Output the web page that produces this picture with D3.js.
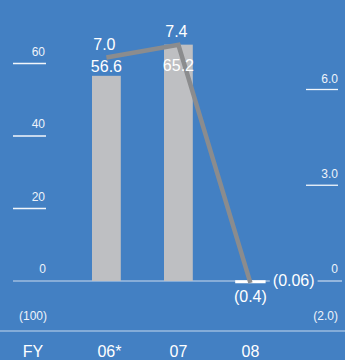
<!DOCTYPE html>
<html>
<head>
<meta charset="utf-8">
<script src="https://cdn.jsdelivr.net/npm/d3@7"></script>
<style>
  html, body { margin: 0; padding: 0; background: #4380c3; }
  svg { display: block; font-family: "Liberation Sans", Arial, sans-serif; }
</style>
</head>
<body>
<div id="chart"></div>
<script>
// values
const categories = ["06*", "07", "08"]
const barValues = [56.6, 65.2, -0.4]
const barLabels = ["56.6", "65.2", "(0.4)"]
const lineValues = [7.0, 7.4, -0.06]
const lineLabels = ["7.0", "7.4", "(0.06)"]
const leftTicks = [0, 20, 40, 60]
const rightTicks = [0, 3.0, 6.0]
const leftBottomLabel = "(100)"
const rightBottomLabel = "(2.0)"

const WIDTH = 345
const HEIGHT = 360
const BG = "#4380c3"

const svg = d3.select("#chart").append("svg")
  .attr("width", WIDTH)
  .attr("height", HEIGHT)

svg.append("rect")
  .attr("width", WIDTH)
  .attr("height", HEIGHT)
  .attr("fill", BG)

const x = d3.scaleBand()
  .domain(categories)
  .range([70.4, 286.4])
  .paddingInner(0.6)
  .paddingOuter(0.3)

const yL = d3.scaleLinear().domain([0, 60]).range([281, 63.5])
const yR = d3.scaleLinear().domain([0, 6]).range([281, 89.5])

const cx = d => x(d) + x.bandwidth() / 2

// left axis ticks
const lt = svg.append("g").selectAll("g").data(leftTicks.filter(d => d !== 0)).join("g")
lt.append("line")
  .attr("x1", 13).attr("x2", 46)
  .attr("y1", d => yL(d)).attr("y2", d => yL(d))
  .attr("stroke", "#f2f6fb").attr("stroke-width", 1.3)
lt.append("text")
  .attr("x", 45).attr("y", d => yL(d) - 8)
  .attr("text-anchor", "end").attr("font-size", 12).attr("fill", "#eef3fa")
  .text(d => d)

// right axis ticks
const rt = svg.append("g").selectAll("g").data(rightTicks.filter(d => d !== 0)).join("g")
rt.append("line")
  .attr("x1", 306).attr("x2", 338)
  .attr("y1", d => yR(d)).attr("y2", d => yR(d))
  .attr("stroke", "#f2f6fb").attr("stroke-width", 1.3)
rt.append("text")
  .attr("x", 338).attr("y", d => yR(d) - 7)
  .attr("text-anchor", "end").attr("font-size", 12).attr("fill", "#eef3fa")
  .text(d => d.toFixed(1))

// zero labels
svg.append("text")
  .attr("x", 46).attr("y", yL(0) - 8)
  .attr("text-anchor", "end").attr("font-size", 12).attr("fill", "#eef3fa")
  .text(leftTicks[0])
svg.append("text")
  .attr("x", 338).attr("y", yR(0) - 8)
  .attr("text-anchor", "end").attr("font-size", 12).attr("fill", "#eef3fa")
  .text(rightTicks[0])

// bottom labels of both axes
svg.append("text")
  .attr("x", 47).attr("y", 320)
  .attr("text-anchor", "end").attr("font-size", 12).attr("fill", "#eef3fa")
  .text(leftBottomLabel)
svg.append("text")
  .attr("x", 338).attr("y", 320)
  .attr("text-anchor", "end").attr("font-size", 12).attr("fill", "#eef3fa")
  .text(rightBottomLabel)

// zero line, broken by the last line label
const zeroG = svg.append("g")

// bars
svg.append("g").selectAll("rect")
  .data(barValues)
  .join("rect")
  .attr("x", (d, i) => x(categories[i]))
  .attr("width", x.bandwidth())
  .attr("y", d => yL(Math.max(0, d)))
  .attr("height", d => Math.abs(yL(d) - yL(0)))
  .attr("fill", d => d < 0 ? "#ffffff" : "#bebfc2")
  .attr("stroke", d => d < 0 ? "#ffffff" : "none")
  .attr("stroke-width", 1.6)

// line
const line = d3.line()
  .x((d, i) => cx(categories[i]))
  .y(d => yR(d))

svg.append("path")
  .datum(lineValues)
  .attr("d", line)
  .attr("fill", "none")
  .attr("stroke", "#8b8c8e")
  .attr("stroke-width", 4.5)
  .attr("stroke-linejoin", "miter")

// bar labels
barValues.forEach((v, i) => {
  const px = cx(categories[i])
  let y
  if (v < 0) y = yL(0) + 21
  else if (yL(v) < yR(lineValues[i]) + 15) y = yL(v) + 26
  else y = yL(v) - 4
  svg.append("text")
    .attr("x", px).attr("y", y)
    .attr("text-anchor", "middle").attr("font-size", 16).attr("fill", "#ffffff")
    .text(barLabels[i])
})

// line labels
let lastLabel
lineValues.forEach((v, i) => {
  const px = cx(categories[i])
  if (v < 0) {
    lastLabel = svg.append("text")
      .attr("x", px + x.bandwidth() / 2 + 8).attr("y", yR(v) + 3)
      .attr("text-anchor", "start").attr("font-size", 16).attr("fill", "#ffffff")
      .text(lineLabels[i])
  } else {
    svg.append("text")
      .attr("x", px - 2).attr("y", yR(v) - 8)
      .attr("text-anchor", "middle").attr("font-size", 16).attr("fill", "#ffffff")
      .text(lineLabels[i])
  }
})

const bb = lastLabel.node().getBBox()
const zeroSegs = [[13, bb.x - 3], [bb.x + bb.width + 3, 342]]
zeroG.selectAll("line").data(zeroSegs).join("line")
  .attr("x1", d => d[0]).attr("x2", d => d[1])
  .attr("y1", yL(0)).attr("y2", yL(0))
  .attr("stroke", "#cbdaee").attr("stroke-width", 1.2)

// separator above the categories
svg.append("line")
  .attr("x1", 0).attr("x2", WIDTH)
  .attr("y1", 331).attr("y2", 331)
  .attr("stroke", "#c6d7ee").attr("stroke-width", 1.2)

// category axis
svg.append("text")
  .attr("x", 33).attr("y", 357)
  .attr("text-anchor", "middle").attr("font-size", 16).attr("fill", "#ffffff")
  .text("FY")

svg.append("g").selectAll("text")
  .data(categories)
  .join("text")
  .attr("x", d => cx(d) + (d.endsWith("*") ? 3 : 0))
  .attr("y", 357)
  .attr("text-anchor", "middle").attr("font-size", 16).attr("fill", "#ffffff")
  .text(d => d)
</script>
</body>
</html>
